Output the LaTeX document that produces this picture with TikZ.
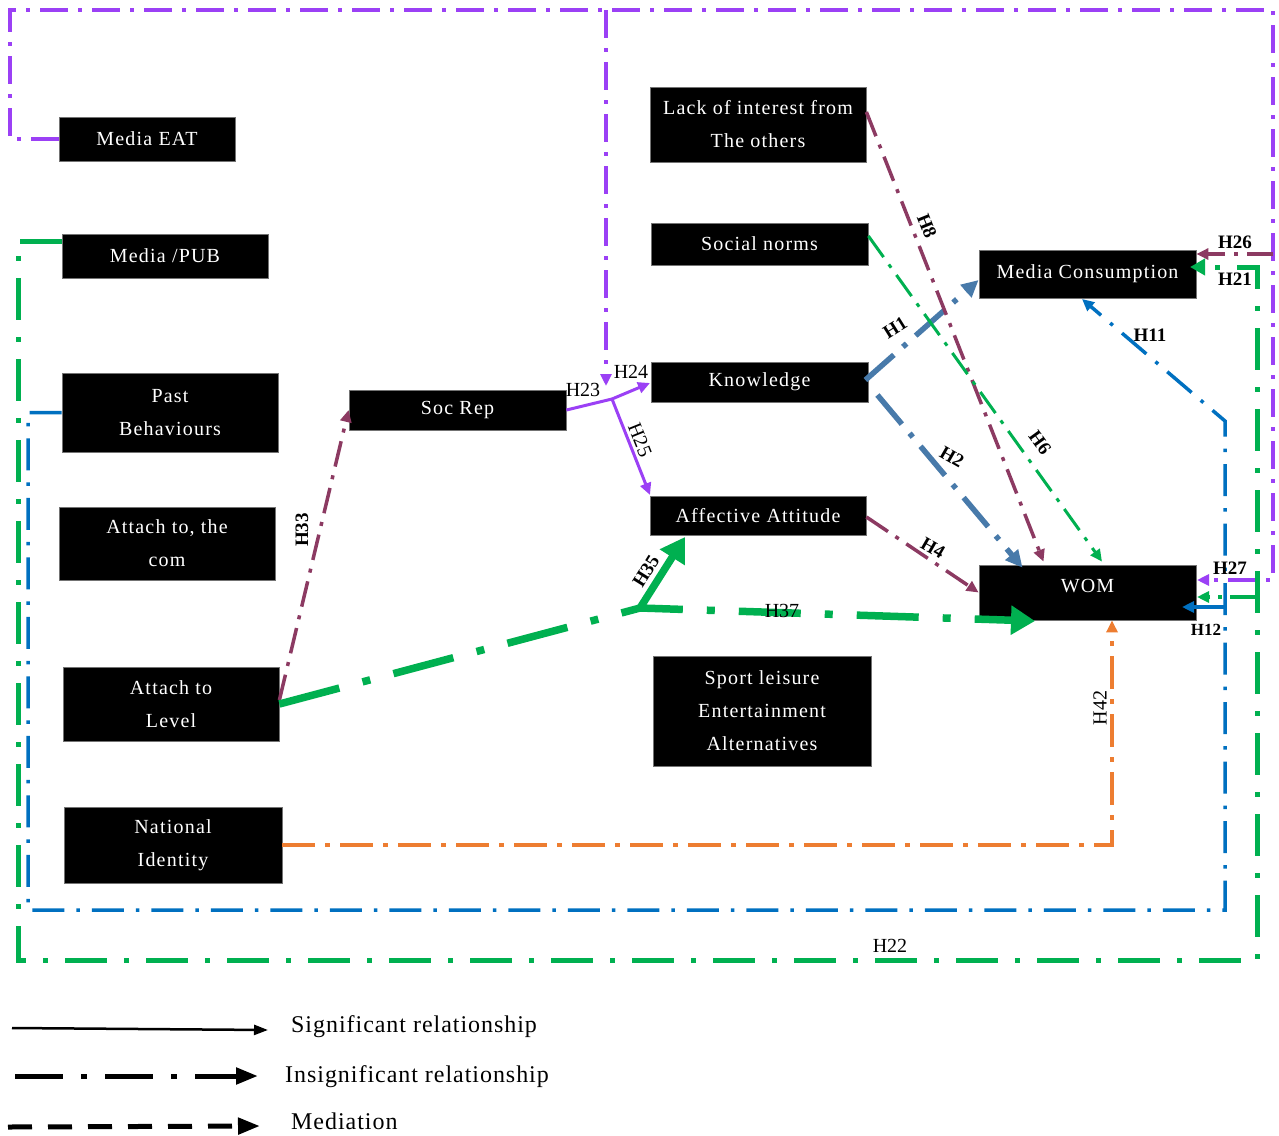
\documentclass[tikz,border=0pt]{standalone}
\usepackage{fontspec}
\setmainfont{Liberation Serif}
\newfontfamily\bxfont[LetterSpace=6]{Liberation Serif}
\newfontfamily\lgfont[LetterSpace=4]{Liberation Serif}
\usetikzlibrary{arrows.meta}
\definecolor{cpur}{RGB}{155,64,245}
\definecolor{cgrn}{RGB}{0,176,80}
\definecolor{cblu}{RGB}{0,112,192}
\definecolor{corg}{RGB}{237,125,49}
\definecolor{cmar}{RGB}{140,58,98}
\definecolor{cstb}{RGB}{72,122,170}
\begin{document}
\begin{tikzpicture}[x=1pt,y=-1pt,
  bx/.style={fill=black, draw=black!55, line width=0.8pt, text=white, align=center, inner sep=0pt, font=\bxfont\fontsize{20}{33}\selectfont},
  hl/.style={font=\fontsize{20}{22}\selectfont, inner sep=1pt},
  hb/.style={font=\bfseries\fontsize{19}{22}\selectfont, inner sep=1pt},
  lg/.style={font=\lgfont\fontsize{24}{28}\selectfont, inner sep=0pt, anchor=west},
  tA/.style={-{Triangle[length=12pt,width=11pt]}},
  tG/.style={-{Triangle[length=15pt,width=16pt]}},
  tS/.style={-{Triangle[length=17pt,width=16pt]}},
  tT/.style={-{Triangle[length=24pt,width=28pt]}},
  dpA/.style={dash pattern=on 28pt off 10pt on 4pt off 10pt},
  dpB/.style={dash pattern=on 32pt off 12pt on 3.5pt off 12pt},
  dpG/.style={dash pattern=on 42pt off 17pt on 5pt off 17pt},
  dpO/.style={dash pattern=on 33pt off 10pt on 5pt off 10pt},
  dpM/.style={dash pattern=on 26pt off 9pt on 4pt off 9pt},
  dpS/.style={dash pattern=on 38pt off 12pt on 5pt off 12pt},
  dpT/.style={dash pattern=on 62pt off 24pt on 8pt off 24pt},
  pur/.style={draw=cpur, line width=4pt},
  grn/.style={draw=cgrn, line width=5pt},
  blu/.style={draw=cblu, line width=3.5pt},
  org/.style={draw=corg, line width=3.5pt},
  mar/.style={draw=cmar, line width=3.5pt},
  stb/.style={draw=cstb, line width=5.5pt},
]
\useasboundingbox (0,0) rectangle (1279,1135);

% ---------- boxes ----------
\node[bx, minimum width=176pt, minimum height=44pt] (eat) at (147,139) {Media EAT};
\node[bx, minimum width=206pt, minimum height=44pt] (pub) at (165,256) {Media /PUB};
\node[bx, minimum width=216pt, minimum height=79pt] (past) at (170,412.5) {Past\\Behaviours};
\node[bx, minimum width=216pt, minimum height=73pt] (com) at (167,543.5) {Attach to, the\\com};
\node[bx, minimum width=216pt, minimum height=74pt] (level) at (171,704) {Attach to\\Level};
\node[bx, minimum width=218pt, minimum height=76pt] (natid) at (173,845) {National\\Identity};
\node[bx, minimum width=217pt, minimum height=40pt] (socrep) at (457.5,410) {Soc Rep};
\node[bx, minimum width=216pt, minimum height=75pt] (lack) at (758,124.5) {Lack of interest from\\The others};
\node[bx, minimum width=217pt, minimum height=42pt] (norms) at (759.5,244) {Social norms};
\node[bx, minimum width=217pt, minimum height=40pt] (know) at (759.5,382) {Knowledge};
\node[bx, minimum width=216pt, minimum height=39pt] (aff) at (758,515.5) {Affective Attitude};
\node[bx, minimum width=218pt, minimum height=110pt] (sport) at (762,711) {Sport leisure\\Entertainment\\Alternatives};
\node[bx, minimum width=217pt, minimum height=48pt] (mc) at (1087.5,274) {Media Consumption};
\node[bx, minimum width=217pt, minimum height=55pt, text depth=14pt] (wom) at (1087.5,592.5) {WOM};

% ---------- coordinates ----------
\coordinate (pA) at (10,139);
\coordinate (pB) at (10,10);
\coordinate (pC) at (1273,10);
\coordinate (pD) at (1273,580);
\coordinate (pE) at (1197,580);
\coordinate (pF) at (606,10);
\coordinate (pG) at (606,386);
\coordinate (mA) at (1273,254);
\coordinate (gA) at (18,241);
\coordinate (gB) at (18,960);
\coordinate (gC) at (1257,960);
\coordinate (gD) at (1257,267);
\coordinate (gE) at (1190,267);
\coordinate (gF) at (1257,597);
\coordinate (gH) at (1197,597);
\coordinate (bA) at (28,412.5);
\coordinate (bB) at (28,910);
\coordinate (bC) at (1225,910);
\coordinate (bD) at (1225,421);
\coordinate (bT) at (1082,299);
\coordinate (bG) at (1225,607);
\coordinate (bH) at (1182,607);
\coordinate (oA) at (1112,845);
\coordinate (jS) at (612,399);
\coordinate (k24) at (650,383);
\coordinate (a25) at (650,495);
\coordinate (jn) at (640,608);
\coordinate (w37) at (1035,621);
\coordinate (a35) at (685,537);

% ---------- connectors ----------
% purple loop (H27) and branch
\draw[pur, dpA, tA] (eat.west) -- (pA) -- (pB) -- (pC) -- (pD) -- (pE);
\draw[pur, dpA, tA] (pF) -- (pG);
% Soc Rep -> Knowledge / Affective
\draw[draw=cpur, line width=3pt] (socrep.east) -- (jS);
\draw[draw=cpur, line width=3pt, tA] (jS) -- (k24);
\draw[draw=cpur, line width=3pt, tA] (jS) -- (a25);
% H26
\draw[mar, dpM, tA] (mA) -- (mc.east |- mA);
% green loop (H22 / H21)
\draw[grn, dpG, tG] (pub.west |- gA) -- (gA) -- (gB) -- (gC) -- (gD) -- (gE);
\draw[draw=cgrn, line width=4pt, dash pattern=on 27pt off 8pt on 4pt off 8pt, tA] (gF) -- (gH);
% blue loop (H11 / H12)
\draw[blu, dpB, tA] (past.west) -- (bA) -- (bB) -- (bC) -- (bD) -- (bT);
\draw[blu, dpB, tA] (bG) -- (bH);
% orange H42
\draw[org, dpO, tA] (natid.east) -- (oA) -- (oA |- wom.south);
% H33
\draw[mar, dpM, tA] ([yshift=4pt]level.east) -- (socrep.west);
% thick green H35 / H37
\draw[draw=cgrn, line width=7.5pt, dpT, tT] (level.east) -- (jn) -- (w37);
\draw[draw=cgrn, line width=7.5pt, tT] (jn) -- (a35);
% steel blue H1 / H2
\draw[stb, dpS, tS] ([xshift=-3pt,yshift=2pt]know.east) -- ([yshift=-6pt]mc.west);
\draw[stb, dpS, tS] ([xshift=9pt,yshift=-13pt]know.east) -- ([xshift=-65pt,yshift=-3pt]wom.north);
% maroon H8, H4
\draw[mar, dpM, tA] ([yshift=12.5pt]lack.east) -- ([xshift=-44pt,yshift=3pt]wom.north);
\draw[mar, dpM, tA] ([yshift=-1.5pt]aff.east) -- (wom.west);
% green H6
\draw[draw=cgrn, line width=3pt, dpM, tA] ([yshift=8pt]norms.east) -- ([xshift=14.5pt,yshift=3pt]wom.north);

% ---------- labels ----------
\node[hb, rotate=-68] (h8) at (927,226) {H8};
\node[hb, rotate=-54] (h6) at (1040,443) {H6};
\node[hb, rotate=32] (h1) at (895,328) {H1};
\node[hb, rotate=-30] (h2) at (952,457) {H2};
\node[hb, rotate=-30] (h4) at (933,548) {H4};
\node[hb] (h11) at (1150,335) {H11};
\node[hb] (h26) at (1235,242) {H26};
\node[hb] (h21) at (1235,279) {H21};
\node[hb] (h27) at (1230,568) {H27};
\node[hb, font=\bfseries\fontsize{17}{20}\selectfont] (h12) at (1206,630) {H12};
\node[hl, rotate=90] (h42) at (1100,708) {H42};
\node[hl] (h22) at (890,946) {H22};
\node[hl] (h37) at (782,611) {H37};
\node[hb, rotate=58] (h35) at (646,571) {H35};
\node[hb, rotate=90] (h33) at (302,530) {H33};
\node[hl] (h23) at (583,390) {H23};
\node[hl] (h24) at (631,372) {H24};
\node[hl, rotate=-68] (h25) at (640,440) {H25};

% ---------- legend ----------
\coordinate (lg1a) at (12,1028);
\coordinate (lg1b) at (268,1030);
\coordinate (lg2a) at (15,1076);
\coordinate (lg2b) at (258,1076);
\coordinate (lg3a) at (8,1127);
\coordinate (lg3b) at (260,1126);
\draw[line width=2.5pt, -{Triangle[length=14pt,width=10pt]}] (lg1a) -- (lg1b);
\draw[line width=5pt, dash pattern=on 48pt off 18pt on 6pt off 18pt, -{Triangle[length=22pt,width=16pt]}] (lg2a) -- (lg2b);
\draw[line width=5pt, dash pattern=on 24pt off 16pt, -{Triangle[length=22pt,width=16pt]}] (lg3a) -- (lg3b);
\node[lg] (lt1) at (291,1027) {Significant relationship};
\node[lg] (lt2) at (285,1077) {Insignificant relationship};
\node[lg] (lt3) at (291,1121) {Mediation};
\end{tikzpicture}
\end{document}
